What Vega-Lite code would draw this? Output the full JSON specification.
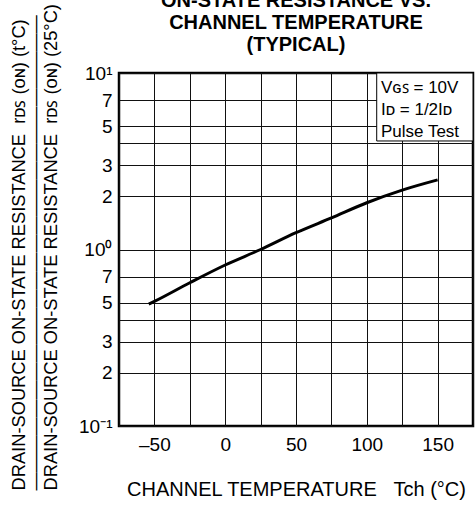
{
  "$schema": "https://vega.github.io/schema/vega-lite/v6.json",
  "width": 354,
  "height": 353,
  "autosize": {"type": "none"},
  "padding": {"left": 119, "top": 73, "right": 3, "bottom": 79},
  "background": "white",
  "title": {
    "text": ["ON-STATE RESISTANCE VS.", "CHANNEL TEMPERATURE", "(TYPICAL)"],
    "fontSize": 20,
    "fontWeight": "bold",
    "font": "Liberation Sans",
    "lineHeight": 22,
    "anchor": "middle",
    "offset": 10,
    "dy": 61.5,
    "color": "black"
  },
  "config": {
    "font": "Liberation Sans",
    "view": {"stroke": "black", "strokeWidth": 2.5},
    "axis": {
      "domain": false,
      "ticks": false,
      "tickSize": 0,
      "grid": true,
      "gridColor": "#111",
      "gridOpacity": 1,
      "gridWidth": 1,
      "labelFont": "Liberation Sans",
      "labelFontSize": 19,
      "labelColor": "black",
      "labelFlush": false,
      "labelOverlap": false,
      "titleFont": "Liberation Sans",
      "titleFontWeight": "normal",
      "titleColor": "black"
    }
  },
  "encoding": {
    "x": {
      "field": "t",
      "type": "quantitative",
      "scale": {"domain": [-75, 175], "nice": false, "zero": false},
      "axis": {
        "values": [-75, -50, -25, 0, 25, 50, 75, 100, 125, 150, 175],
        "labelExpr": "datum.value % 50 != 0 ? '' : (datum.value < 0 ? '–' + abs(datum.value) : '' + datum.value)",
        "labelPadding": 9,
        "title": "CHANNEL TEMPERATURE\u00a0\u00a0\u00a0Tch (°C)",
        "titleFontSize": 20,
        "titleX": 177,
        "titleY": 69,
        "titleBaseline": "alphabetic"
      }
    },
    "y": {
      "field": "r",
      "type": "quantitative",
      "scale": {"type": "log", "domain": [0.1, 10], "nice": false},
      "axis": {
        "values": [0.1, 0.2, 0.3, 0.4, 0.5, 0.7, 1, 2, 3, 4, 5, 7, 10],
        "labelExpr": "datum.value == 10 ? '10¹' : datum.value == 1 ? '10⁰' : datum.value == 0.1 ? '10⁻¹' : (datum.value == 4 || datum.value == 0.4) ? '' : (datum.value < 1 ? format(datum.value * 10, '.0f') : format(datum.value, '.0f'))",
        "labelPadding": 7,
        "title": [
          "DRAIN-SOURCE ON-STATE RESISTANCE\u00a0\u00a0rᴅꜱ (ᴏɴ) (t°C)",
          "——————————————————————————",
          "DRAIN-SOURCE ON-STATE RESISTANCE\u00a0\u00a0rᴅꜱ (ᴏɴ) (25°C)"
        ],
        "titleFontSize": 18.3,
        "titleLineHeight": 16,
        "titleAngle": -90,
        "titleX": -95,
        "titleY": 417,
        "titleAlign": "left",
        "titleBaseline": "alphabetic"
      }
    }
  },
  "layer": [
    {
      "data": {"values": [
        {"t": -54, "r": 0.49},
        {"t": -50, "r": 0.508},
        {"t": -25, "r": 0.648},
        {"t": 0, "r": 0.817},
        {"t": 25, "r": 1.0},
        {"t": 50, "r": 1.245},
        {"t": 75, "r": 1.51},
        {"t": 100, "r": 1.84},
        {"t": 125, "r": 2.17},
        {"t": 150, "r": 2.48}
      ]},
      "mark": {"type": "line", "color": "black", "strokeWidth": 3, "interpolate": "monotone"}
    },
    {
      "data": {"values": [{"t": 107, "t2": 175, "r": 4.12, "r2": 10}]},
      "mark": {"type": "rect", "fill": "white", "stroke": "black", "strokeWidth": 1},
      "encoding": {"x2": {"field": "t2"}, "y2": {"field": "r2"}}
    },
    {
      "data": {"values": [
        {"t": 110, "r": 7.7, "label": "Vɢꜱ = 10V"},
        {"t": 110, "r": 5.78, "label": "Iᴅ = 1/2Iᴅ"},
        {"t": 110, "r": 4.34, "label": "Pulse Test"}
      ]},
      "mark": {"type": "text", "align": "left", "baseline": "alphabetic", "fontSize": 17, "color": "black", "font": "Liberation Sans"},
      "encoding": {"text": {"field": "label"}}
    }
  ]
}
